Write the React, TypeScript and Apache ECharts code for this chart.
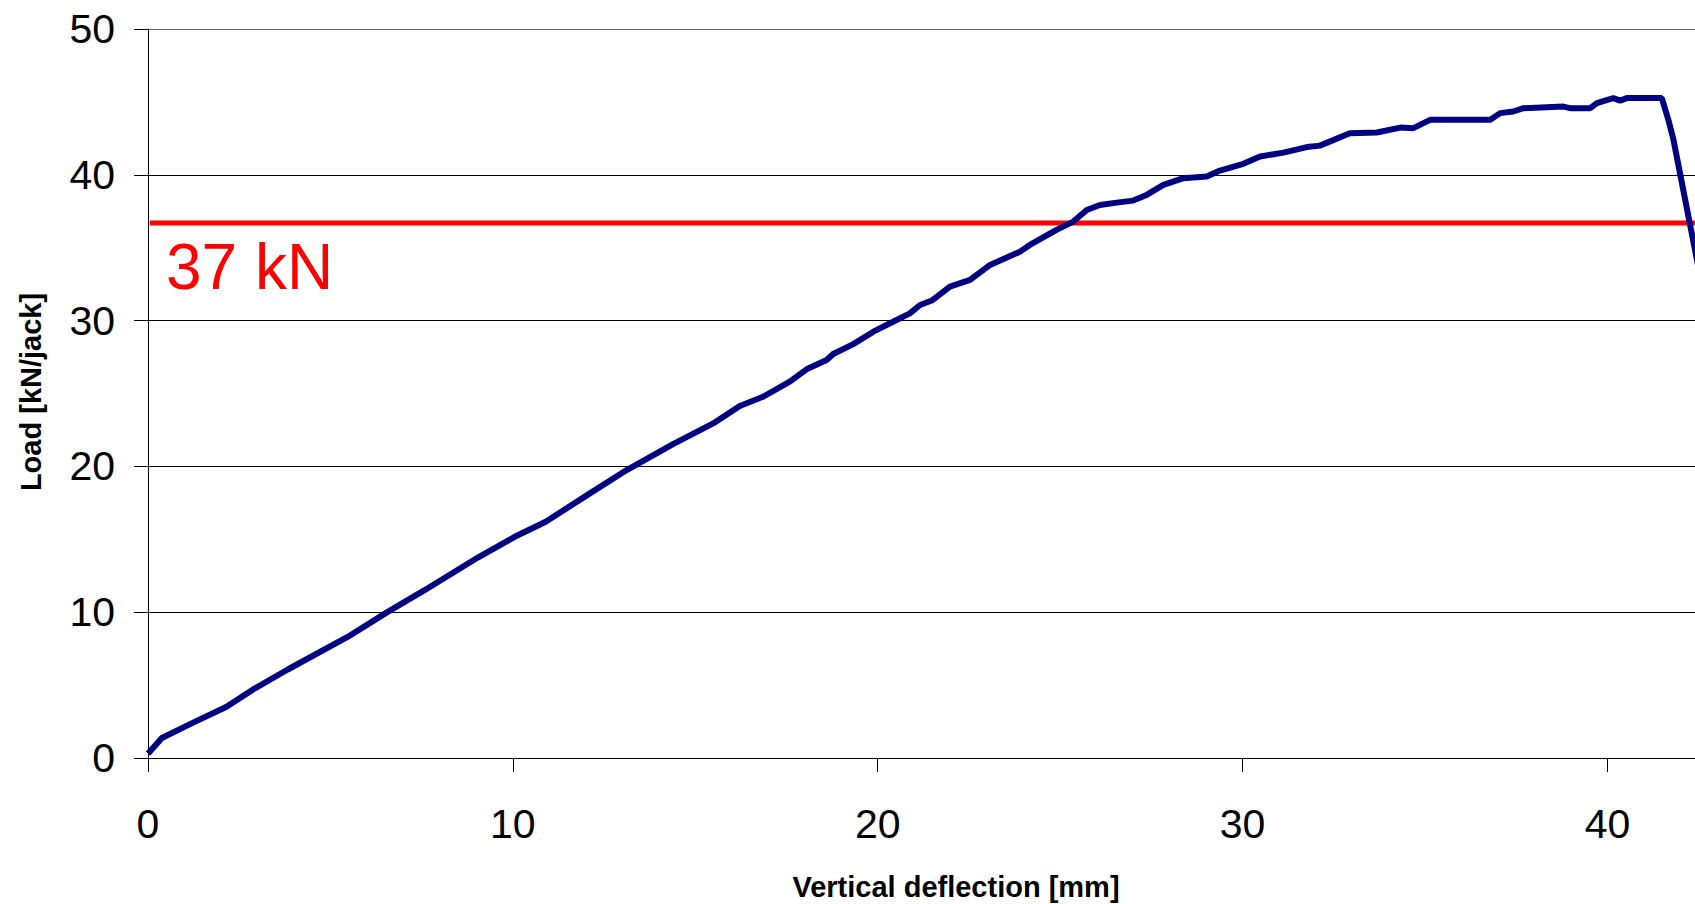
import React, { useEffect, useRef } from "react";
import * as echarts from "echarts";

// Vertical deflection [mm]
const deflection = [
  0, 0.04, 0.38, 1.18, 2.14, 2.92, 3.83, 5.47, 6.57, 7.58, 9.04, 10.05, 10.9,
  12.11, 13.12, 14.39, 15.49, 16.22, 16.86, 17.59, 18.05, 18.6, 18.78, 19.33,
  19.88, 20.42, 20.88, 21.16, 21.5, 21.98, 22.53, 23.08, 23.9, 24.17, 24.9,
  25.36, 25.73, 26.09, 26.55, 27.0, 27.37, 27.83, 28.38, 29.02, 29.38, 30.02,
  30.48, 31.12, 31.76, 32.12, 32.94, 33.68, 34.32, 34.68, 35.14, 36.24, 36.79,
  37.06, 37.42, 37.7, 38.79, 38.98, 39.53, 39.71, 40.16, 40.35, 40.53, 41.49,
  41.67, 41.81, 42.4, 42.6,
];

// Load [kN/jack]
const load = [
  0.3, 0.41, 1.37, 2.36, 3.5, 4.76, 6.07, 8.3, 10.02, 11.51, 13.75, 15.17, 16.2,
  18.15, 19.75, 21.53, 22.95, 24.14, 24.78, 25.81, 26.66, 27.3, 27.71, 28.39,
  29.24, 29.92, 30.5, 31.07, 31.4, 32.33, 32.79, 33.82, 34.73, 35.19, 36.22,
  36.79, 37.59, 37.93, 38.09, 38.23, 38.62, 39.31, 39.77, 39.88, 40.29, 40.75,
  41.25, 41.52, 41.9, 42.0, 42.85, 42.9, 43.24, 43.2, 43.77, 43.77, 43.77,
  44.23, 44.34, 44.57, 44.68, 44.57, 44.57, 44.91, 45.26, 45.09, 45.26, 45.26,
  43.77, 42.4, 34.85, 32.3,
];

const thresholdLoad = 36.7;
const thresholdX = [0.05, 45];
const thresholdLabel = "37 kN";

const xTicks = { min: 0, max: 42.4, interval: 10 };
const yTicks = { min: 0, max: 50, interval: 10 };

const xName = "Vertical deflection [mm]";
const yName = "Load [kN/jack]";

const FONT = "'Liberation Sans', Arial, Helvetica, sans-serif";

export default function App() {
  const ref = useRef<HTMLDivElement>(null);

  useEffect(() => {
    if (!ref.current) return;
    const chart = echarts.init(ref.current, undefined, { renderer: "svg" });
    const curve = deflection.map((d, i) => [d, load[i]]);
    const threshold = thresholdX.map((x) => [x, thresholdLoad]);

    chart.setOption({
      animation: false,
      backgroundColor: "#ffffff",
      grid: { left: 148, right: 0, top: 29, bottom: 146, containLabel: false },
      xAxis: {
        type: "value",
        min: xTicks.min,
        max: xTicks.max,
        interval: xTicks.interval,
        axisLine: { show: true, onZero: false, lineStyle: { color: "#000", width: 1 } },
        axisTick: { show: true, inside: false, length: 14, lineStyle: { color: "#000", width: 1 } },
        axisLabel: {
          show: true,
          margin: 45,
          fontSize: 41,
          color: "#000",
          fontFamily: FONT,
          showMaxLabel: false,
        },
        splitLine: { show: false },
      },
      yAxis: {
        type: "value",
        min: yTicks.min,
        max: yTicks.max,
        interval: yTicks.interval,
        axisLine: { show: true, onZero: false, lineStyle: { color: "#000", width: 1 } },
        axisTick: { show: true, inside: false, length: 14, lineStyle: { color: "#000", width: 1 } },
        axisLabel: {
          show: true,
          margin: 33,
          fontSize: 41,
          color: "#000",
          fontFamily: FONT,
        },
        splitLine: {
          show: true,
          lineStyle: { color: ["#000", "#000", "#000", "#000", "#000", "#666"], width: 1 },
        },
      },
      series: [
        {
          name: "Load",
          type: "line",
          data: curve,
          showSymbol: false,
          symbol: "none",
          clip: true,
          lineStyle: { color: "#000080", width: 6 },
          itemStyle: { color: "#000080" },
          z: 3,
        },
        {
          name: "37 kN",
          type: "line",
          data: threshold,
          showSymbol: false,
          symbol: "none",
          clip: true,
          lineStyle: { color: "#ff0000", width: 5 },
          itemStyle: { color: "#ff0000" },
          z: 2,
        },
      ],
      graphic: [
        {
          type: "text",
          x: 166,
          y: 267,
          style: {
            text: thresholdLabel,
            fill: "#ff0000",
            font: `64px ${FONT}`,
            align: "left",
            verticalAlign: "middle",
            textAlign: "left",
            textVerticalAlign: "middle",
          },
        },
        {
          type: "text",
          x: 31,
          y: 392,
          rotation: Math.PI / 2,
          style: {
            text: yName,
            fill: "#000",
            font: `bold 29px ${FONT}`,
            align: "center",
            verticalAlign: "middle",
            textAlign: "center",
            textVerticalAlign: "middle",
          },
        },
        {
          type: "text",
          x: 956,
          y: 887,
          style: {
            text: xName,
            fill: "#000",
            font: `bold 29px ${FONT}`,
            align: "center",
            verticalAlign: "middle",
            textAlign: "center",
            textVerticalAlign: "middle",
          },
        },
      ],
    });

    return () => chart.dispose();
  }, []);

  return (
    <div
      ref={ref}
      style={{ position: "fixed", left: 0, top: 0, width: 1695, height: 904, background: "#fff" }}
    />
  );
}
